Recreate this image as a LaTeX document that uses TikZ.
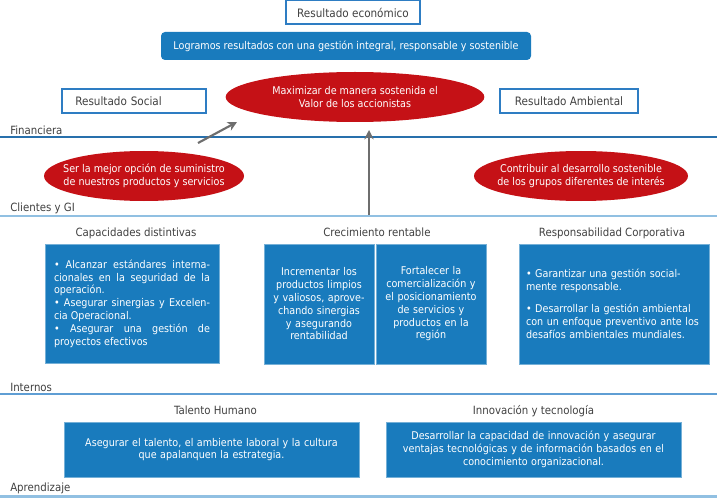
\documentclass[tikz,border=0pt]{standalone}
\usepackage{fontspec}
\setmainfont{DejaVu Sans Condensed}
\usetikzlibrary{shapes.geometric, arrows.meta, positioning}
\definecolor{fillblue}{RGB}{25,123,189}
\definecolor{edgeblue}{RGB}{46,125,195}
\definecolor{goalred}{RGB}{197,17,22}
\definecolor{txtgray}{RGB}{64,64,64}
\definecolor{arrowgray}{RGB}{110,110,110}
\definecolor{darkline}{RGB}{40,112,172}
\definecolor{midline}{RGB}{95,158,212}
\definecolor{lightline}{RGB}{145,192,226}
\tikzset{
  result/.style={rectangle, draw=edgeblue, line width=1.5pt, fill=white,
                 text=txtgray, minimum height=18pt, inner sep=0pt,
                 font=\fontsize{8.7}{10}\selectfont},
  goal/.style={ellipse, fill=goalred, text=white, align=center,
               minimum height=37.5pt, inner xsep=-8pt, inner ysep=0pt},
  block/.style={rectangle, fill=fillblue, draw=fillblue!60!white, thin,
                text=white, inner sep=0pt},
  blocktitle/.style={text=txtgray, inner sep=0pt, text height=6.2pt, text depth=2pt,
                     font=\fontsize{8.5}{10}\selectfont},
  persp/.style={anchor=south west, text=txtgray, inner sep=1.5pt,
                font=\fontsize{8.5}{10}\selectfont},
  push/.style={-{Stealth[length=7pt, width=7pt]}, line width=1.6pt, color=arrowgray},
}

\begin{document}
\begin{tikzpicture}[x=0.75pt, y=-0.75pt,
    every node/.style={font=\fontsize{8}{9.6}\selectfont}]
  \useasboundingbox (0,0) rectangle (717,499);

  % resultados
  \node[result, minimum width=100.5pt] (econ) at (353,12.5) {Resultado económico};
  \node[rectangle, rounded corners=3pt, fill=fillblue, text=white,
        minimum width=277.5pt, minimum height=21pt, inner sep=0pt] (logro) at (346,46)
        {Logramos resultados con una gestión integral, responsable y sostenible};
  \node[goal, minimum width=194pt] (valor) at (355,97)
        {Maximizar de manera sostenida el\\Valor de los accionistas};
  \node[result, text width=88pt, align=left, inner xsep=10pt] (social) at (134,101) {Resultado Social};
  \node[result, minimum width=103.5pt] (amb) at (569,101) {Resultado Ambiental};

  % perspectivas
  \coordinate (l1a) at (0,137);   \coordinate (l1b) at (717,137);
  \coordinate (l2a) at (0,216);   \coordinate (l2b) at (717,216);
  \coordinate (l3a) at (0,394);   \coordinate (l3b) at (717,394);
  \coordinate (l4a) at (0,496.5); \coordinate (l4b) at (717,496.5);
  \draw[darkline, line width=1.1pt] (l1a) -- (l1b);
  \draw[lightline, line width=1.8pt] (l2a) -- (l2b);
  \draw[midline, line width=1.4pt] (l3a) -- (l3b);
  \draw[lightline, line width=1.6pt] (l4a) -- (l4b);
  \node[persp] (fin) at (8,137) {Financiera};
  \node[persp] (cli) at (8,216) {Clientes y GI};
  \node[persp] (int) at (8,394) {Internos};
  \node[persp] (apr) at (8,496) {Aprendizaje};

  % clientes
  \node[goal, minimum width=150pt] (mejor) at (144,176)
        {Ser la mejor opción de suministro\\de nuestros productos y servicios};
  \node[goal, minimum width=160.5pt] (contrib) at (581,176)
        {Contribuir al desarrollo sostenible\\de los grupos diferentes de interés};

  % procesos internos
  \node[block, minimum width=130.5pt, minimum height=89.25pt,
        text width=117pt, align=justify] (cap) at (132,303.5)
        {\textbullet{} Alcanzar estándares interna-\linebreak
         cionales en la seguridad de la\linebreak operación.\\
         \textbullet{} Asegurar sinergias y Excelen-\linebreak cia Operacional.\\
         \textbullet{} Asegurar una gestión de\linebreak proyectos efectivos};
  \node[block, minimum width=82.5pt, minimum height=90pt, text width=72pt,
        align=center] (crec1) at (319,304)
        {Incrementar los\\productos limpios\\y valiosos, aprove-\\chando sinergias\\y asegurando\\rentabilidad};
  \node[block, minimum width=82.5pt, minimum height=90pt, text width=72pt,
        align=center] (crec2) at (431,304)
        {Fortalecer la\\comercialización y\\el posicionamiento\\de servicios y\\productos en la\\región};
  \node[block, minimum width=142.5pt, minimum height=90pt, text width=132pt,
        align=left] (resp) at (614,304)
        {\textbullet{} Garantizar una gestión social-\\mente responsable.\\[7pt]
         \textbullet{} Desarrollar la gestión ambiental\\con un enfoque preventivo ante los\\desafíos ambientales mundiales.};
  \node[blocktitle, above=3.5pt of cap, xshift=3pt] (capt) {Capacidades distintivas};
  \node[blocktitle, above=3.5pt of crec1.north east, xshift=2pt] (crect) {Crecimiento rentable};
  \node[blocktitle, above=3.5pt of resp, xshift=-1.5pt] (respt) {Responsabilidad Corporativa};

  % aprendizaje
  \node[block, minimum width=221.25pt, minimum height=41.25pt, text width=210pt,
        align=center] (tal) at (211.5,449.5)
        {Asegurar el talento, el ambiente laboral y la cultura\\que apalanquen la estrategia.};
  \node[block, minimum width=221.25pt, minimum height=41.25pt, text width=210pt,
        align=center] (inn) at (533.5,449.5)
        {Desarrollar la capacidad de innovación y asegurar\\ventajas tecnológicas y de información basados en el\\conocimiento organizacional.};
  \node[blocktitle, above=3.5pt of tal, xshift=3pt] (talt) {Talento Humano};
  \node[blocktitle, above=3.5pt of inn] (innt) {Innovación y tecnología};

  % flechas
  \coordinate (up1s) at (198,143);
  \coordinate (up1e) at (237,122);
  \coordinate (up2s) at (369,215);
  \coordinate (up2e) at (369,130);
  \draw[push] (up1s) -- (up1e);
  \draw[push] (up2s) -- (up2e);
\end{tikzpicture}
\end{document}
